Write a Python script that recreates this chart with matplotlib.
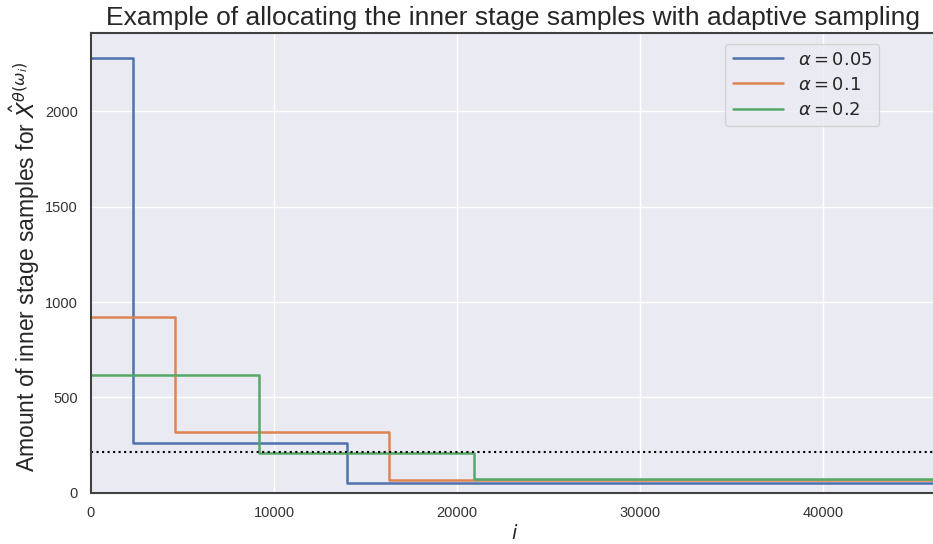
import matplotlib
matplotlib.use("Agg")
import matplotlib.pyplot as plt
import seaborn as sns

sns.set_theme(style="darkgrid")
plt.rcParams['font.family'] = ['Liberation Sans', 'DejaVu Sans']
plt.rcParams['mathtext.fontset'] = 'dejavusans'

labels = [r"$\alpha = 0.05$", r"$\alpha = 0.1$", r"$\alpha = 0.2$"]
colors = ["#4C72B0", "#DD8452", "#55A868"]
# step boundaries (i) and levels for each alpha
x_steps = [
    [0, 2300, 14000, 50000],
    [0, 4600, 16300, 50000],
    [0, 9200, 20900, 50000],
]
levels = [
    [2280, 262, 50],
    [920, 320, 70],
    [620, 210, 75],
]
threshold = 215

fig = plt.figure(figsize=(9.33, 5.44), dpi=100)
ax = fig.add_axes([0.0975, 0.094, 0.981, 0.845])

for xs, ys, lab, c in zip(x_steps, levels, labels, colors):
    ax.step(xs, ys + [ys[-1]], where="post", color=c, lw=1.8, label=lab)

ax.axhline(threshold, color="black", ls=":", lw=1.5)

ax.set_xlim(0, 50000)
ax.set_ylim(0, 2410)
ax.set_xticks([0, 10000, 20000, 30000, 40000])
ax.set_yticks([0, 500, 1000, 1500, 2000])
ax.tick_params(labelsize=10.5, colors="0.2")
for s in ["left", "top", "bottom", "right"]:
    ax.spines[s].set_visible(True)
    ax.spines[s].set_color("0.25")
    ax.spines[s].set_linewidth(1.5)

ax.set_xlabel(r"$i$", fontsize=14)
ax.xaxis.set_label_coords(0.463, -0.068)
ax.set_ylabel(r"Amount of inner stage samples for $\hat{X}^{\theta(\omega_i)}$", fontsize=16.5)
ax.yaxis.set_label_coords(-0.053, 0.492)
fig.text(0.55, 0.966, "Example of allocating the inner stage samples with adaptive sampling",
         ha="center", va="center", fontsize=19, color="0.15")

ax.legend(loc="upper right", bbox_to_anchor=(0.952, 0.935), bbox_transform=fig.transFigure,
          fontsize=13, handlelength=2.8, labelspacing=0.45)

fig.savefig("out.png", dpi=100)
